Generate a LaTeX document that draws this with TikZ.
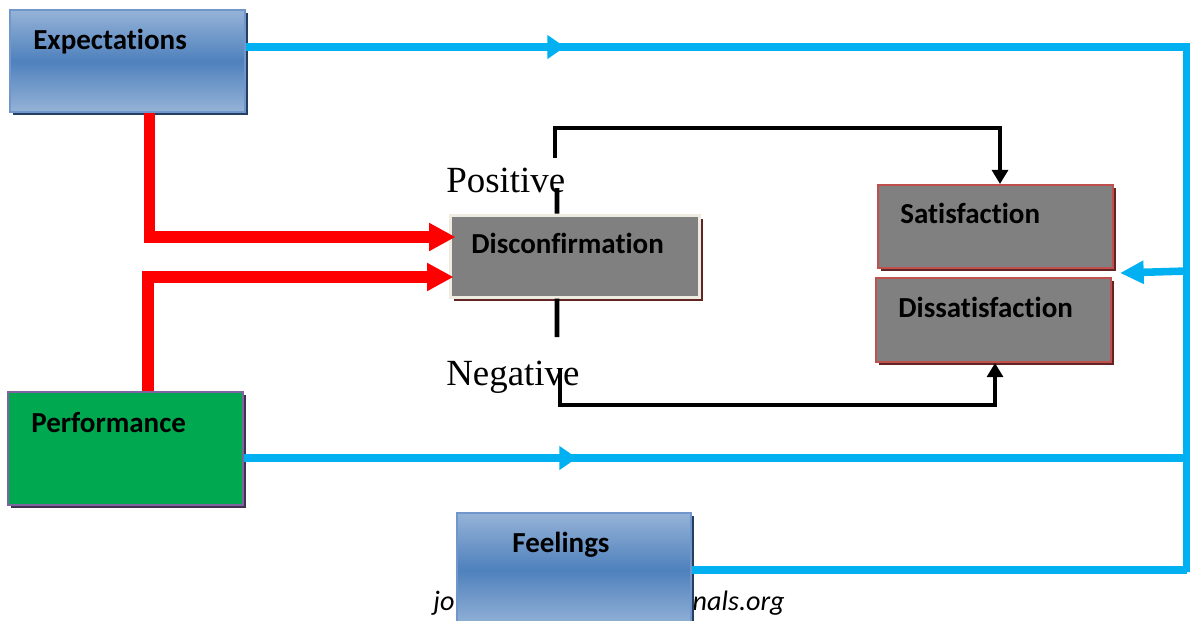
\documentclass[tikz,border=0pt]{standalone}
\usepackage{fontspec}
\setmainfont{Liberation Serif}
\newfontfamily\boxfont[Ligatures=NoCommon]{Carlito}
\usetikzlibrary{arrows.meta,shadows,positioning}

\definecolor{blueLight}{HTML}{95B3D7}
\definecolor{blueMid}{HTML}{4F81BD}
\definecolor{blueEdge}{HTML}{7096CC}
\definecolor{navyShade}{HTML}{243F60}
\definecolor{perfGreen}{HTML}{00A850}
\definecolor{perfEdge}{HTML}{8064A2}
\definecolor{perfShade}{HTML}{3F3151}
\definecolor{boxGray}{HTML}{808080}
\definecolor{discEdge}{HTML}{EEECE1}
\definecolor{satEdge}{HTML}{C0504D}
\definecolor{redShade}{HTML}{632523}
\definecolor{flowBlue}{HTML}{00B0F0}

\begin{document}
\begin{tikzpicture}[x=0.02cm, y=-0.02cm,
    box/.style={draw, line width=0.05cm, minimum width=4.7cm, inner sep=0pt},
    bluebox/.style={box, draw=blueEdge, top color=blueLight, bottom color=blueLight, middle color=blueMid,
        drop shadow={shadow xshift=0.06cm, shadow yshift=-0.06cm, fill=navyShade, opacity=1}},
    greenbox/.style={box, draw=perfEdge, fill=perfGreen,
        drop shadow={shadow xshift=0.06cm, shadow yshift=-0.06cm, fill=perfShade, opacity=1}},
    discbox/.style={box, draw=discEdge, fill=boxGray, line width=0.06cm,
        drop shadow={shadow xshift=0.07cm, shadow yshift=-0.07cm, fill=redShade, opacity=1}},
    satbox/.style={box, draw=satEdge, fill=boxGray, line width=0.04cm,
        drop shadow={shadow xshift=0.06cm, shadow yshift=-0.06cm, fill=redShade, opacity=1}},
    lbl/.style={font=\boxfont\bfseries\fontsize{16.5}{19}\selectfont, anchor=base west, inner sep=0pt},
    signlbl/.style={font=\fontsize{21}{24}\selectfont, anchor=base west, inner sep=0pt},
    redline/.style={draw=red, line width=6.8pt, -{Triangle[length=15pt, width=15pt]}},
    blackline/.style={draw=black, line width=2.8pt},
    blueline/.style={draw=flowBlue, line width=4.3pt},
    midtip/.style={-{Triangle[length=10pt, width=13pt]}}
]
\useasboundingbox (0,0) rectangle (1190,620);

% watermark, partly behind the Feelings box
\node[font=\boxfont\itshape\fontsize{16}{18}\selectfont, anchor=base west, inner sep=0pt] (wmleft) at (433,610) {jo};
\node[font=\boxfont\itshape\fontsize{16}{18}\selectfont, anchor=base east, inner sep=0pt] (wmright) at (785,610) {nals.org};

% boxes
\node[bluebox, minimum height=2.04cm] (exp) at (127.5,61) {};
\node[lbl] (exptext) at (33,49) {Expectations};

\node[greenbox, minimum height=2.26cm] (perf) at (125.5,448.5) {};
\node[lbl] (perftext) at (31,432) {Performance};

\node[discbox, minimum width=5cm, minimum height=1.64cm] (disc) at (575,256) {};
\node[lbl] (disctext) at (471,253) {Disconfirmation};

\node[satbox, minimum height=1.66cm] (sat) at (995.5,226.5) {};
\node[lbl] (sattext) at (900,223) {Satisfaction};

\node[satbox, minimum height=1.68cm] (dis) at (993.5,320) {};
\node[lbl] (distext) at (898,317) {Dissatisfaction};

\node[bluebox, minimum width=4.68cm, minimum height=2.28cm] (feel) at (574,570) {};
\node[lbl] (feeltext) at (512,552) {Feelings};

% signs of the disconfirmation
\node[signlbl] (pos) at (446,192) {Positive};
\node[signlbl] (neg) at (446,385) {Negative};

% named points on the connectors
\coordinate (posgapB) at (557,188);
\coordinate (posgapA) at (555,158);
\coordinate (posturn) at (555,128);
\coordinate (neggapA) at (557,337);
\coordinate (neggapB) at (560,368);
\coordinate (negturn) at (560,405);
\coordinate (expmid) at (565,47);
\coordinate (perfmid) at (577,458);
\coordinate (railtop) at (1187,47);
\coordinate (railbottom) at (1187,572);
\coordinate (railsat) at (1187,271);

% red inputs
\draw[redline] ([xshift=0.44cm]exp.south) |- ([xshift=0.14cm, yshift=0.38cm]disc.west);
\draw[redline] ([xshift=0.45cm]perf.north) |- ([xshift=0.1cm, yshift=-0.42cm]disc.west);

% positive / negative outcomes
\draw[blackline] ([xshift=-0.36cm]disc.north) -- (posgapB);
\draw[blackline, -{Triangle[length=8pt, width=9pt]}] (posgapA) -- (posturn) -| ([xshift=0.09cm]sat.north);
\draw[blackline] ([xshift=-0.36cm]disc.south) -- (neggapA);
\draw[blackline, -{Triangle[length=8pt, width=9pt]}] (neggapB) -- (negturn) -| ([xshift=0.03cm]dis.south);

% blue feedback rail
\draw[blueline] ([yshift=0.28cm]exp.east) -- (railtop) -- (railbottom);
\draw[blueline, midtip] ([yshift=0.28cm]exp.east) -- (expmid);
\draw[blueline] ([yshift=-0.19cm]perf.east) -- (perfmid -| railtop);
\draw[blueline, midtip] ([yshift=-0.19cm]perf.east) -- (perfmid);
\draw[blueline] (feel.east) -- (feel.east -| railtop);
\draw[blueline, -{Triangle[length=13.5pt, width=12.5pt]}] (railsat) -- ([xshift=0.12cm, yshift=-0.08cm]sat.south east);
\end{tikzpicture}
\end{document}
